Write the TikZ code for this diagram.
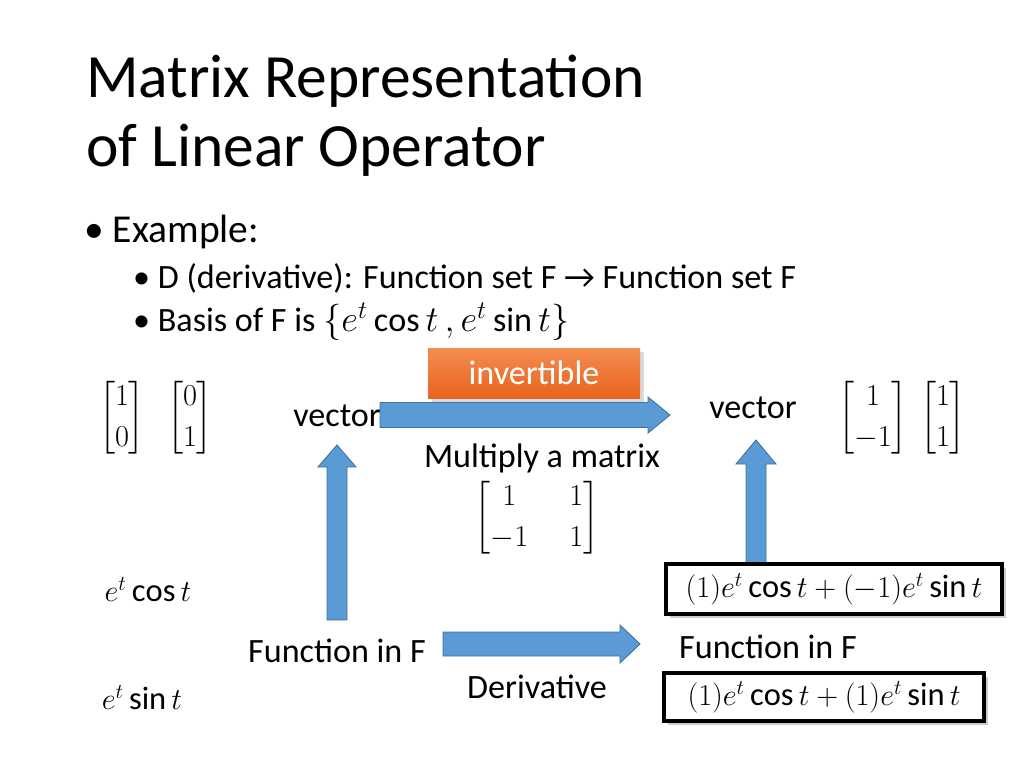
\documentclass[tikz,border=0pt]{standalone}
\usepackage{amsmath}
\usepackage{fontspec}
\setmainfont{Carlito}
\usetikzlibrary{shadows}
\definecolor{arrowblue}{RGB}{91,155,213}
\definecolor{arrowedge}{RGB}{65,113,156}
\definecolor{orangetop}{RGB}{244,140,80}
\definecolor{orangebot}{RGB}{232,100,30}
\tikzstyle{bigarrow} = [draw=arrowedge, fill=arrowblue, line width=0.5pt]
\tikzstyle{txt} = [font=\fontsize{19.4}{22}\selectfont, anchor=center]
\tikzstyle{result} = [draw, line width=2.2pt, fill=white, drop shadow={opacity=0.4},
  inner sep=3pt, font=\fontsize{18.5}{21}\selectfont]
\tikzstyle{matx} = [font=\fontsize{19}{23}\selectfont]
\newcommand{\mat}[1]{\ensuremath{\begin{bmatrix}#1\end{bmatrix}}}
% horizontal block arrow: x1, x2 (tip), y centre, shaft half, head half, head length
\newcommand{\harrow}[6]{\draw[bigarrow] (#1,#3-#4) -- (#2-#6,#3-#4) -- (#2-#6,#3-#5)
  -- (#2,#3) -- (#2-#6,#3+#5) -- (#2-#6,#3+#4) -- (#1,#3+#4) -- cycle;}
% vertical block arrow: x centre, y1 (bottom), y2 (tip), shaft half, head half, head length
\newcommand{\varrow}[6]{\draw[bigarrow] (#1-#4,#2) -- (#1-#4,#3+#6) -- (#1-#5,#3+#6)
  -- (#1,#3) -- (#1+#5,#3+#6) -- (#1+#4,#3+#6) -- (#1+#4,#2) -- cycle;}

\begin{document}
\begin{tikzpicture}[x=0.02cm,y=-0.02cm]
  \useasboundingbox (0,0) rectangle (1024,768);
  % title and bullets
  \node[anchor=base west, font=\fontsize{35}{40}\selectfont] (title1) at (80,97) {Matrix Representation};
  \node[anchor=base west, font=\fontsize{35}{40}\selectfont] (title2) at (80,166) {of Linear Operator};
  \node[anchor=west, font=\fontsize{22.5}{26}\selectfont] (ex) at (78,232) {\textbullet\ Example:};
  \node[anchor=west, font=\fontsize{19.4}{22}\selectfont] (b1) at (127,278) {\textbullet\ D (derivative): Function set F → Function set F};
  \node[anchor=west, font=\fontsize{19.4}{22}\selectfont] (b2) at (127,322) {\textbullet\ Basis of F is $\{e^t\cos t\,, e^t\sin t\}$};

  % block arrows
  \harrow{380}{670}{415}{12.5}{18}{22}
  \harrow{443}{640}{644}{12}{19}{20}
  \varrow{337}{620}{445}{10}{19}{22}
  \varrow{756}{600}{440}{10}{20}{24}

  % invertible box
  \node[top color=orangetop, bottom color=orangebot, drop shadow={opacity=0.3},
    minimum width=212*0.02cm, minimum height=50*0.02cm, text=white,
    font=\fontsize{19.4}{22}\selectfont] (inv) at (534,373) {invertible};

  % labels
  \node[txt] (vecL) at (337,416) {vector};
  \node[txt] (vecR) at (753,408) {vector};
  \node[txt] (mult) at (542,458) {Multiply a matrix};
  \node[txt] (funL) at (337,651) {Function in F};
  \node[txt] (funR) at (768,647) {Function in F};
  \node[txt] (deriv) at (537,687) {Derivative};

  % matrices
  \node[matx] (m1) at (122,418) {\mat{1\\0}};
  \node[matx] (m2) at (190,418) {\mat{0\\1}};
  \node[matx] (m3) at (873,418) {\mat{1\\-1}};
  \node[matx] (m4) at (943,418) {\mat{1\\1}};
  \node[matx] (mA) at (537,518) {\mat{1 & \hphantom{-}1\\-1 & \hphantom{-}1}};

  % functions
  \node[font=\fontsize{18.5}{21}\selectfont] (f1) at (148,590) {$e^t\cos t$};
  \node[font=\fontsize{18.5}{21}\selectfont] (f2) at (142,698) {$e^t\sin t$};
  \node[result, minimum width=336*0.02cm, minimum height=50*0.02cm] (r1) at (834,589)
    {$(1)e^t\cos t+(-1)e^t\sin t$};
  \node[result, minimum width=320*0.02cm, minimum height=48*0.02cm] (r2) at (824,697)
    {$(1)e^t\cos t+(1)e^t\sin t$};
\end{tikzpicture}
\end{document}
